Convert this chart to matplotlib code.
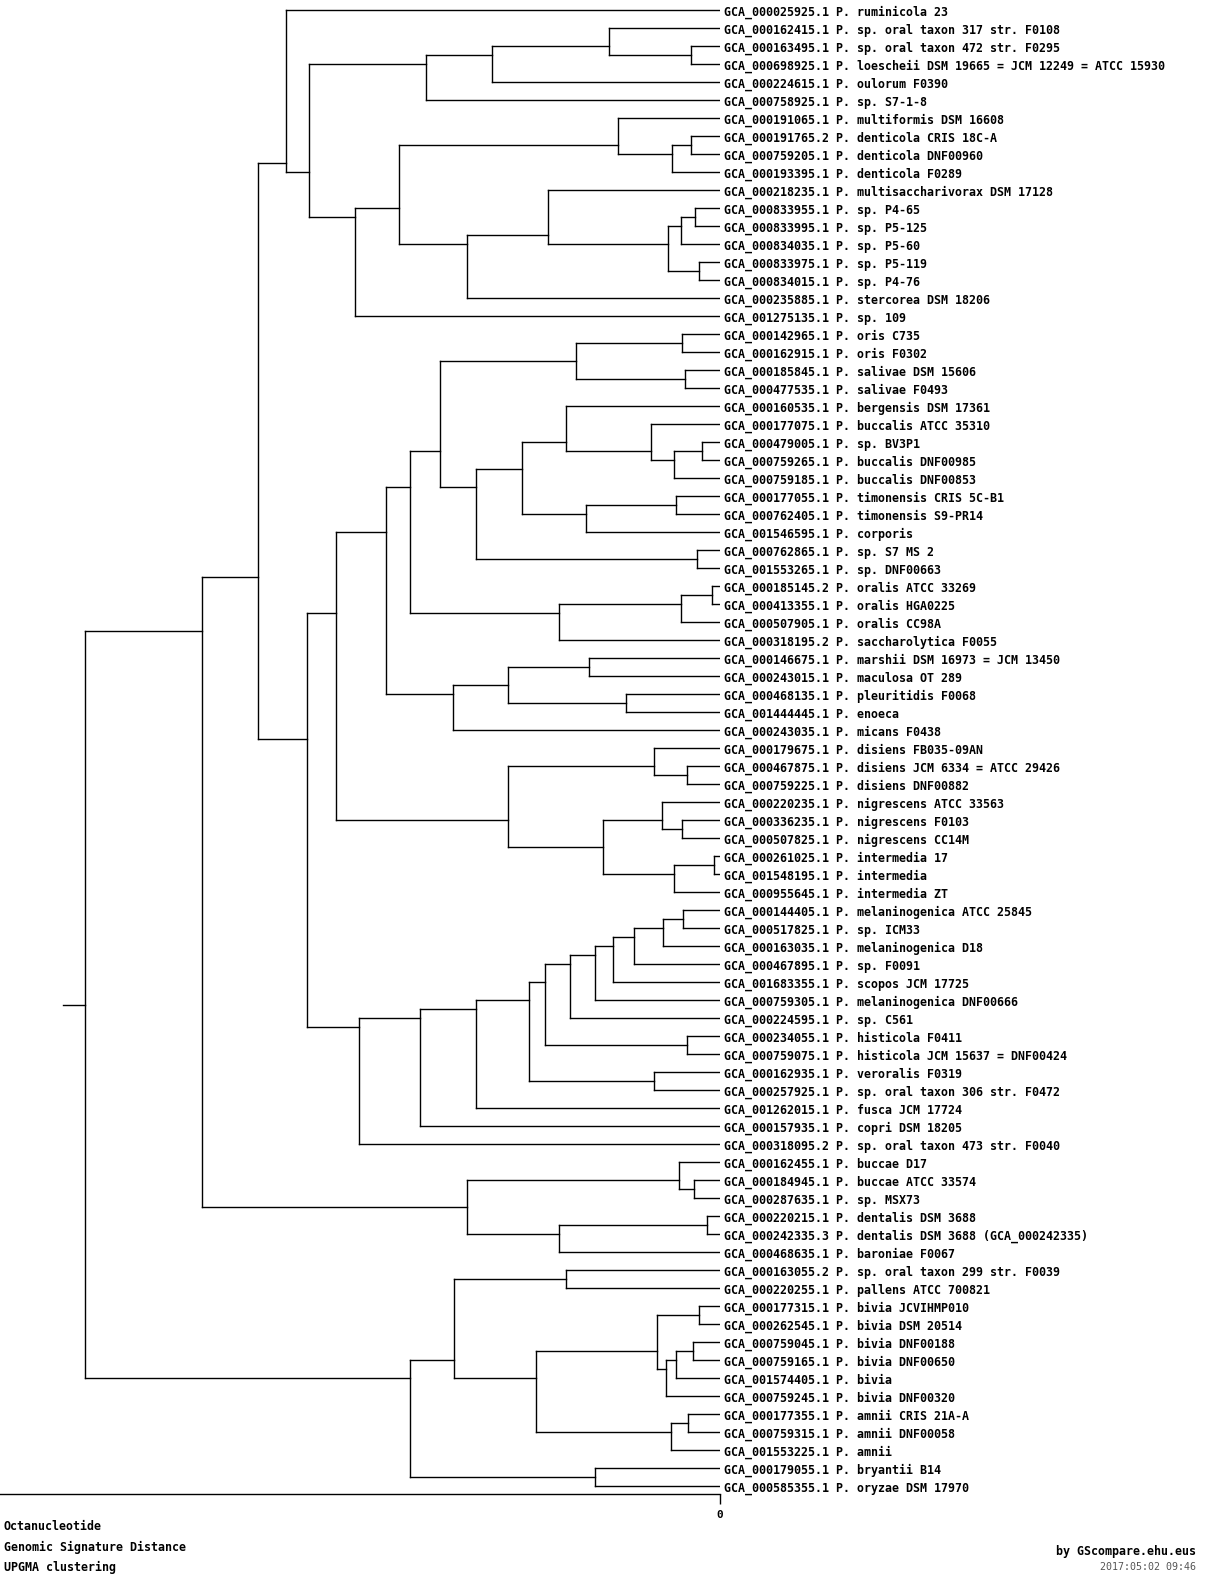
import matplotlib
matplotlib.use("Agg")
import matplotlib.pyplot as plt
from matplotlib.transforms import offset_copy

# ---------------- data ----------------
leaf_labels = [
    "GCA_000025925.1 P. ruminicola 23",
    "GCA_000162415.1 P. sp. oral taxon 317 str. F0108",
    "GCA_000163495.1 P. sp. oral taxon 472 str. F0295",
    "GCA_000698925.1 P. loescheii DSM 19665 = JCM 12249 = ATCC 15930",
    "GCA_000224615.1 P. oulorum F0390",
    "GCA_000758925.1 P. sp. S7-1-8",
    "GCA_000191065.1 P. multiformis DSM 16608",
    "GCA_000191765.2 P. denticola CRIS 18C-A",
    "GCA_000759205.1 P. denticola DNF00960",
    "GCA_000193395.1 P. denticola F0289",
    "GCA_000218235.1 P. multisaccharivorax DSM 17128",
    "GCA_000833955.1 P. sp. P4-65",
    "GCA_000833995.1 P. sp. P5-125",
    "GCA_000834035.1 P. sp. P5-60",
    "GCA_000833975.1 P. sp. P5-119",
    "GCA_000834015.1 P. sp. P4-76",
    "GCA_000235885.1 P. stercorea DSM 18206",
    "GCA_001275135.1 P. sp. 109",
    "GCA_000142965.1 P. oris C735",
    "GCA_000162915.1 P. oris F0302",
    "GCA_000185845.1 P. salivae DSM 15606",
    "GCA_000477535.1 P. salivae F0493",
    "GCA_000160535.1 P. bergensis DSM 17361",
    "GCA_000177075.1 P. buccalis ATCC 35310",
    "GCA_000479005.1 P. sp. BV3P1",
    "GCA_000759265.1 P. buccalis DNF00985",
    "GCA_000759185.1 P. buccalis DNF00853",
    "GCA_000177055.1 P. timonensis CRIS 5C-B1",
    "GCA_000762405.1 P. timonensis S9-PR14",
    "GCA_001546595.1 P. corporis",
    "GCA_000762865.1 P. sp. S7 MS 2",
    "GCA_001553265.1 P. sp. DNF00663",
    "GCA_000185145.2 P. oralis ATCC 33269",
    "GCA_000413355.1 P. oralis HGA0225",
    "GCA_000507905.1 P. oralis CC98A",
    "GCA_000318195.2 P. saccharolytica F0055",
    "GCA_000146675.1 P. marshii DSM 16973 = JCM 13450",
    "GCA_000243015.1 P. maculosa OT 289",
    "GCA_000468135.1 P. pleuritidis F0068",
    "GCA_001444445.1 P. enoeca",
    "GCA_000243035.1 P. micans F0438",
    "GCA_000179675.1 P. disiens FB035-09AN",
    "GCA_000467875.1 P. disiens JCM 6334 = ATCC 29426",
    "GCA_000759225.1 P. disiens DNF00882",
    "GCA_000220235.1 P. nigrescens ATCC 33563",
    "GCA_000336235.1 P. nigrescens F0103",
    "GCA_000507825.1 P. nigrescens CC14M",
    "GCA_000261025.1 P. intermedia 17",
    "GCA_001548195.1 P. intermedia",
    "GCA_000955645.1 P. intermedia ZT",
    "GCA_000144405.1 P. melaninogenica ATCC 25845",
    "GCA_000517825.1 P. sp. ICM33",
    "GCA_000163035.1 P. melaninogenica D18",
    "GCA_000467895.1 P. sp. F0091",
    "GCA_001683355.1 P. scopos JCM 17725",
    "GCA_000759305.1 P. melaninogenica DNF00666",
    "GCA_000224595.1 P. sp. C561",
    "GCA_000234055.1 P. histicola F0411",
    "GCA_000759075.1 P. histicola JCM 15637 = DNF00424",
    "GCA_000162935.1 P. veroralis F0319",
    "GCA_000257925.1 P. sp. oral taxon 306 str. F0472",
    "GCA_001262015.1 P. fusca JCM 17724",
    "GCA_000157935.1 P. copri DSM 18205",
    "GCA_000318095.2 P. sp. oral taxon 473 str. F0040",
    "GCA_000162455.1 P. buccae D17",
    "GCA_000184945.1 P. buccae ATCC 33574",
    "GCA_000287635.1 P. sp. MSX73",
    "GCA_000220215.1 P. dentalis DSM 3688",
    "GCA_000242335.3 P. dentalis DSM 3688 (GCA_000242335)",
    "GCA_000468635.1 P. baroniae F0067",
    "GCA_000163055.2 P. sp. oral taxon 299 str. F0039",
    "GCA_000220255.1 P. pallens ATCC 700821",
    "GCA_000177315.1 P. bivia JCVIHMP010",
    "GCA_000262545.1 P. bivia DSM 20514",
    "GCA_000759045.1 P. bivia DNF00188",
    "GCA_000759165.1 P. bivia DNF00650",
    "GCA_001574405.1 P. bivia",
    "GCA_000759245.1 P. bivia DNF00320",
    "GCA_000177355.1 P. amnii CRIS 21A-A",
    "GCA_000759315.1 P. amnii DNF00058",
    "GCA_001553225.1 P. amnii",
    "GCA_000179055.1 P. bryantii B14",
    "GCA_000585355.1 P. oryzae DSM 17970",
]

# internal clusters: first leaf, last leaf of first child, last leaf, merge distance
node_first = [0, 0, 0, 0, 1, 1, 1, 1, 2, 6, 6, 6, 7, 7, 10, 10, 11, 11, 11, 14,
              18, 18, 18, 18, 18, 18, 18, 20, 22, 22, 22, 23, 24, 24, 27, 27, 30, 32, 32, 32,
              36, 36, 36, 38, 41, 41, 42, 44, 44, 45, 47, 47, 50, 50, 50, 50, 50, 50, 50, 50,
              50, 50, 50, 57, 59, 64, 64, 65, 67, 67, 70, 70, 70, 72, 72, 72, 74, 74, 74, 78,
              78, 81]
node_split = [69, 63, 17, 0, 5, 4, 3, 1, 2, 16, 9, 6, 8, 7, 15, 10, 13, 12, 11, 14,
              49, 40, 35, 31, 21, 19, 18, 20, 29, 26, 22, 23, 25, 24, 28, 27, 30, 34, 33, 32,
              39, 37, 36, 38, 43, 41, 42, 46, 44, 45, 48, 47, 62, 61, 60, 58, 56, 55, 54, 53,
              52, 51, 50, 57, 59, 66, 64, 65, 68, 67, 80, 71, 70, 77, 73, 72, 76, 75, 74, 79,
              78, 81]
node_last = [82, 69, 63, 17, 17, 5, 4, 3, 3, 17, 16, 9, 9, 8, 16, 15, 15, 13, 12, 15,
             63, 49, 40, 35, 31, 21, 19, 21, 31, 29, 26, 26, 26, 25, 29, 28, 31, 35, 34, 33,
             40, 39, 37, 39, 49, 43, 43, 49, 46, 46, 49, 48, 63, 62, 61, 60, 58, 56, 55, 54,
             53, 52, 51, 58, 60, 69, 66, 66, 69, 68, 82, 80, 71, 80, 77, 73, 77, 76, 75, 80,
             79, 82]
node_dist = [635.4, 518.5, 461.7, 434.3, 410.7, 294.0, 227.7, 111.0, 29.3, 364.7,
             320.7, 101.7, 47.7, 29.3, 252.7, 171.7, 51.7, 39.3, 25.3, 20.7,
             413.3, 384.3, 333.7, 310.3, 279.7, 143.7, 37.7, 34.7, 244.3, 198.3,
             153.7, 68.7, 45.7, 17.7, 133.7, 43.7, 22.7, 161.3, 38.7, 7.7,
             266.7, 211.7, 130.7, 93.7, 211.7, 65.7, 33.0, 116.7, 58.3, 37.7,
             45.7, 6.0, 360.7, 299.7, 244.3, 190.7, 174.7, 149.7, 124.7, 106.7,
             86.3, 56.7, 36.7, 32.7, 65.7, 252.7, 40.7, 25.7, 160.7, 12.7,
             309.7, 266.3, 154.3, 184.0, 63.0, 20.7, 54.0, 43.7, 26.7, 49.0,
             31.7, 125.0]
root_stem = 656.6
axis_ticks = [0]
footer_left = ["Octanucleotide", "Genomic Signature Distance", "UPGMA clustering"]
credit = "by GScompare.ehu.eus"
stamp = "2017:05:02 09:46"

# ---------------- figure ----------------
W, H = 1220, 1579
fig = plt.figure(figsize=(W / 100, H / 100), dpi=100)
FONT = "DejaVu Sans Mono"


def px_rect(x0, y0, x1, y1):
    return [x0 / W, 1 - y1 / H, (x1 - x0) / W, (y1 - y0) / H]


ax = fig.add_axes(px_rect(0, 1.3, 720, 1494))
ax.set_xlim(720, 0)
ax.set_ylim(82.43, -0.5)
for s in ("top", "left", "right"):
    ax.spines[s].set_visible(False)
ax.spines["bottom"].set_linewidth(1.0)
ax.set_yticks([])
ax.set_xticks(axis_ticks)
ax.set_xticklabels([str(t) for t in axis_ticks], fontfamily=FONT, fontsize=8,
                   fontweight="bold")
ax.tick_params(axis="x", length=7.5, width=1.0, direction="out", pad=4)

LW = 1.0
lookup = {}
for a, s, b, d in zip(node_first, node_split, node_last, node_dist):
    lookup[(a, b)] = (s, d)


def node_info(a, b):
    if a == b:
        return 0.0
    return lookup[(a, b)][1]


for a, s, b, d in zip(node_first, node_split, node_last, node_dist):
    c1 = (a, s)
    c2 = (s + 1, b)
    y1 = (c1[0] + c1[1]) / 2
    y2 = (c2[0] + c2[1]) / 2
    ax.plot([d, d], [y1, y2], color="black", lw=LW, solid_capstyle="projecting")
    ax.plot([d, node_info(*c1)], [y1, y1], color="black", lw=LW, solid_capstyle="projecting")
    ax.plot([d, node_info(*c2)], [y2, y2], color="black", lw=LW, solid_capstyle="projecting")

# root stem
r = 0
rs = node_split[r]
ymid = ((node_first[r] + rs) / 2 + (rs + 1 + node_last[r]) / 2) / 2
ax.plot([root_stem, node_dist[r]], [ymid, ymid], color="black", lw=LW)

trans = offset_copy(ax.transData, fig=fig, x=3.0, y=-1.4, units="points")
for i, lab in enumerate(leaf_labels):
    ax.text(0, i, lab, transform=trans, fontfamily=FONT, fontsize=8.4,
            fontweight="bold", va="center", ha="left", clip_on=False)

for k, t in enumerate(footer_left):
    fig.text(4 / W, 1 - (1527 + 20 * k) / H, t, fontfamily=FONT, fontsize=8.4,
             fontweight="bold", va="center", ha="left")
fig.text(1196 / W, 1 - 1552 / H, credit, fontfamily=FONT, fontsize=8.4,
         fontweight="bold", va="center", ha="right")
fig.text(1196 / W, 1 - 1567 / H, stamp, fontfamily=FONT, fontsize=7.2,
         va="center", ha="right", color="#555555")

fig.savefig("out.png", dpi=100)
